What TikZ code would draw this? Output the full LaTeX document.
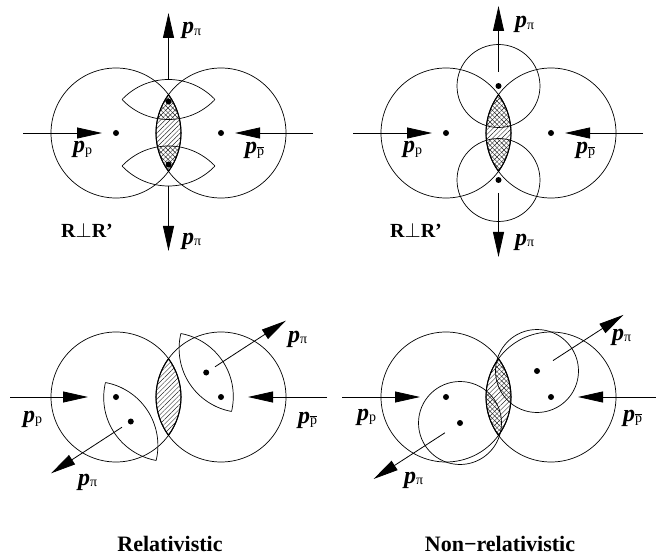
\documentclass[tikz,border=0pt]{standalone}
\usepackage{fontspec}
\setmainfont{Liberation Serif}
\usetikzlibrary{arrows.meta,patterns.meta,calc}

\tikzset{
  circ/.style={line width=0.7pt},
  lensline/.style={line width=1.1pt},
  parrow/.style={line width=0.8pt,-{Triangle[length=25pt,width=11pt]}},
  hNE/.style={pattern={Lines[angle=45,distance=3.3pt,line width=0.45pt]},pattern color=black!85},
  hNW/.style={pattern={Lines[angle=-45,distance=3.3pt,line width=0.45pt]},pattern color=black!85},
  lbl/.style={inner sep=0pt,anchor=base west},
  captext/.style={inner sep=0pt,anchor=base,font=\fontsize{22}{22}\selectfont\bfseries},
  rr/.style={inner sep=0pt,anchor=base west,font=\fontsize{20}{20}\selectfont\bfseries},
}
\newcommand\pmom[1]{{\fontsize{24}{24}\selectfont\bfseries\itshape p}\raisebox{-1.5pt}{\fontsize{14}{14}\selectfont #1}}
\newcommand\pbar{$\overline{\mbox{p}}$}
\newcommand\lenspath[1]{($(#1)+(0,-38.3)$) arc[start angle=143.9,end angle=216.1,radius=65pt] arc[start angle=-36.1,end angle=36.1,radius=65pt] -- cycle}
\newcommand\peye[3]{%
  \begin{scope}\clip ($(#1)+(#2,#3)$) circle[radius=64pt];
    \draw[circ] ($(#1)-(#2,#3)$) circle[radius=64pt];\end{scope}
  \begin{scope}\clip ($(#1)-(#2,#3)$) circle[radius=64pt];
    \draw[circ] ($(#1)+(#2,#3)$) circle[radius=64pt];\end{scope}}

\begin{document}
\begin{tikzpicture}[x=1pt,y=-1pt]
\useasboundingbox (0,0) rectangle (656,556);

% ================= Panel 1 =================
\coordinate (C1) at (168.5,133);
\coordinate (L1) at (116,133);
\coordinate (R1) at (221,133);
\coordinate (E1a) at (168.5,99.5);
\coordinate (E1b) at (168.5,166);
\begin{scope}
  \clip \lenspath{C1};
  \fill[hNE] (150,90) rectangle (190,180);
  \begin{scope}
    \clip ($(E1a)+(0,44)$) circle[radius=64pt];
    \clip ($(E1a)-(0,44)$) circle[radius=64pt];
    \fill[hNW] (150,90) rectangle (190,180);
  \end{scope}
  \begin{scope}
    \clip ($(E1b)+(0,44)$) circle[radius=64pt];
    \clip ($(E1b)-(0,44)$) circle[radius=64pt];
    \fill[hNW] (150,90) rectangle (190,180);
  \end{scope}
\end{scope}
\draw[circ] (L1) circle[radius=65pt];
\draw[circ] (R1) circle[radius=65pt];
\draw[lensline] \lenspath{C1};
\peye{E1a}{0}{44}
\peye{E1b}{0}{44}
\fill (L1) circle[radius=3pt];
\fill (R1) circle[radius=3pt];
\fill (168.5,101.5) circle[radius=3pt];
\fill (168.5,164.5) circle[radius=3pt];
\coordinate (U1s) at (168.5,79.5); \coordinate (U1e) at (168.5,13);
\coordinate (D1s) at (168.5,186); \coordinate (D1e) at (168.5,251);
\coordinate (P1s) at (23,133); \coordinate (P1e) at (102,133);
\coordinate (Q1s) at (313,133); \coordinate (Q1e) at (235,133);
\draw[parrow] (U1s) -- (U1e);
\draw[parrow] (D1s) -- (D1e);
\draw[parrow] (P1s) -- (P1e);
\draw[parrow] (Q1s) -- (Q1e);
\node[lbl] (t1a) at (182,34) {\pmom{π}};
\node[lbl] (t1b) at (182,244) {\pmom{π}};
\node[lbl] (t1c) at (73,153) {\pmom{p}};
\node[lbl] (t1d) at (245,154) {\pmom{\pbar}};
\node[rr] (t1e) at (61,238) {R$\perp$R’};

% ================= Panel 2 =================
\coordinate (C2) at (498.5,133);
\coordinate (L2) at (446,133);
\coordinate (R2) at (551,133);
\coordinate (S2a) at (498.5,86);
\coordinate (S2b) at (498.5,180);
\begin{scope}
  \clip \lenspath{C2};
  \fill[hNE] (480,90) rectangle (520,180);
  \begin{scope}
    \clip (S2a) circle[radius=41.5pt];
    \fill[hNW] (480,90) rectangle (520,180);
  \end{scope}
  \begin{scope}
    \clip (S2b) circle[radius=41.5pt];
    \fill[hNW] (480,90) rectangle (520,180);
  \end{scope}
\end{scope}
\draw[circ] (L2) circle[radius=65pt];
\draw[circ] (R2) circle[radius=65pt];
\draw[lensline] \lenspath{C2};
\draw[circ] (S2a) circle[radius=41.5pt];
\draw[circ] (S2b) circle[radius=41.5pt];
\fill (L2) circle[radius=3pt];
\fill (R2) circle[radius=3pt];
\fill (S2a) circle[radius=3pt];
\fill (S2b) circle[radius=3pt];
\coordinate (U2s) at (498.5,72); \coordinate (U2e) at (498.5,6);
\coordinate (D2s) at (498.5,193); \coordinate (D2e) at (498.5,257);
\coordinate (P2s) at (353,133); \coordinate (P2e) at (432,133);
\coordinate (Q2s) at (643,133); \coordinate (Q2e) at (565,133);
\draw[parrow] (U2s) -- (U2e);
\draw[parrow] (D2s) -- (D2e);
\draw[parrow] (P2s) -- (P2e);
\draw[parrow] (Q2s) -- (Q2e);
\node[lbl] (t2a) at (515,28) {\pmom{π}};
\node[lbl] (t2b) at (515,245) {\pmom{π}};
\node[lbl] (t2c) at (403,153) {\pmom{p}};
\node[lbl] (t2d) at (576,154) {\pmom{\pbar}};
\node[rr] (t2e) at (390,238) {R$\perp$R’};

% ================= Panel 3 =================
\coordinate (C3) at (168.5,397);
\coordinate (L3) at (116,397);
\coordinate (R3) at (221,397);
\coordinate (E3a) at (206.2,372.5);
\coordinate (E3b) at (130.8,421.5);
\begin{scope}
  \clip \lenspath{C3};
  \fill[hNE] (150,350) rectangle (190,445);
\end{scope}
\draw[circ] (L3) circle[radius=65pt];
\draw[circ] (R3) circle[radius=65pt];
\draw[lensline] \lenspath{C3};
\peye{E3a}{36.9}{-24}
\peye{E3b}{36.9}{-24}
\fill (L3) circle[radius=3pt];
\fill (R3) circle[radius=3pt];
\fill (E3a) circle[radius=3pt];
\fill (E3b) circle[radius=3pt];
\coordinate (U3s) at (215,366.8); \coordinate (U3e) at (285.9,320.7);
\coordinate (D3s) at (122,427.2); \coordinate (D3e) at (51.1,473.3);
\coordinate (P3s) at (10,397); \coordinate (P3e) at (88,397);
\coordinate (Q3s) at (327,397); \coordinate (Q3e) at (248,397);
\draw[parrow] (U3s) -- (U3e);
\draw[parrow] (D3s) -- (D3e);
\draw[parrow] (P3s) -- (P3e);
\draw[parrow] (Q3s) -- (Q3e);
\node[lbl] (t3a) at (288,342) {\pmom{π}};
\node[lbl] (t3b) at (78,485) {\pmom{π}};
\node[lbl] (t3c) at (23,422) {\pmom{p}};
\node[lbl] (t3d) at (298,423) {\pmom{\pbar}};
\node[captext] (t3e) at (170,551) {Relativistic};

% ================= Panel 4 =================
\coordinate (C4) at (498.5,397);
\coordinate (L4) at (446,397);
\coordinate (R4) at (551,397);
\coordinate (S4a) at (537,371);
\coordinate (S4b) at (460,423);
\begin{scope}
  \clip \lenspath{C4};
  \fill[hNE] (480,350) rectangle (520,445);
  \begin{scope}
    \clip (S4a) circle[radius=41.5pt];
    \fill[hNW] (480,350) rectangle (520,445);
  \end{scope}
  \begin{scope}
    \clip (S4b) circle[radius=41.5pt];
    \fill[hNW] (480,350) rectangle (520,445);
  \end{scope}
\end{scope}
\draw[circ] (L4) circle[radius=65pt];
\draw[circ] (R4) circle[radius=65pt];
\draw[lensline] \lenspath{C4};
\draw[circ] (S4a) circle[radius=41.5pt];
\draw[circ] (S4b) circle[radius=41.5pt];
\fill (L4) circle[radius=3pt];
\fill (R4) circle[radius=3pt];
\fill (S4a) circle[radius=3pt];
\fill (S4b) circle[radius=3pt];
\coordinate (U4s) at (553,360.6); \coordinate (U4e) at (623.4,314.9);
\coordinate (D4s) at (444.9,432.8); \coordinate (D4e) at (373.6,479);
\coordinate (P4s) at (342,397); \coordinate (P4e) at (420,397);
\coordinate (Q4s) at (656,397); \coordinate (Q4e) at (578,397);
\draw[parrow] (U4s) -- (U4e);
\draw[parrow] (D4s) -- (D4e);
\draw[parrow] (P4s) -- (P4e);
\draw[parrow] (Q4s) -- (Q4e);
\node[lbl] (t4a) at (612,340) {\pmom{π}};
\node[lbl] (t4b) at (404,483) {\pmom{π}};
\node[lbl] (t4c) at (357,420) {\pmom{p}};
\node[lbl] (t4d) at (623,421) {\pmom{\pbar}};
\node[captext] (t4e) at (500,551) {Non−relativistic};
\end{tikzpicture}
\end{document}
